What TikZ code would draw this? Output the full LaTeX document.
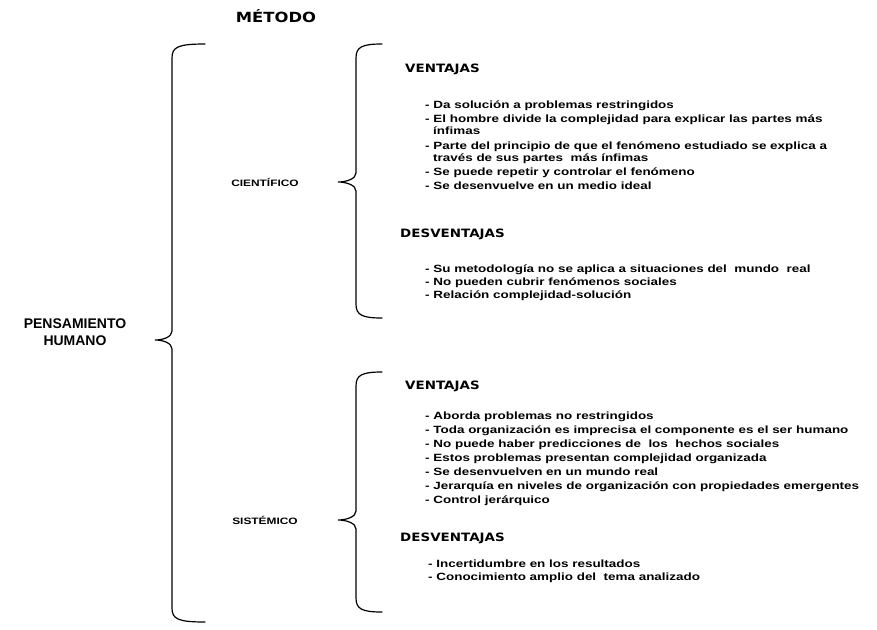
\documentclass[tikz,border=0pt]{standalone}
\usepackage{fontspec}
\setmainfont{Liberation Sans}
\newfontfamily\headfont[FakeStretch=1.17]{DejaVu Sans}
\newfontfamily\itemfont[FakeStretch=1.28]{Liberation Sans}
\newfontfamily\plainfont{Liberation Sans}
\newcommand{\drawbrace}[6]{%
  \draw[brace] (#5,#2) .. controls ({#1+6},#2) and (#1,{#2+3}) .. (#1,{#2+14})
    -- (#1,{#3-9}) .. controls (#1,{#3-3}) and ({#6+8},#3) .. (#6,#3)
    .. controls ({#6+8},#3) and (#1,{#3+3}) .. (#1,{#3+9})
    -- (#1,{#4-14}) .. controls (#1,{#4-3}) and ({#1+6},#4) .. (#5,#4);}
\tikzset{
  itemtext/.style={anchor=base west, inner sep=0pt, font=\itemfont\bfseries\fontsize{10.5}{13}\selectfont},
  headtext/.style={anchor=base west, inner sep=0pt, font=\headfont\bfseries\fontsize{11.5}{13}\selectfont},
  branchtext/.style={anchor=center, inner sep=0pt, font=\itemfont\bfseries\fontsize{9.3}{11}\selectfont},
  titletext/.style={anchor=center, inner sep=0pt, font=\headfont\bfseries\fontsize{14}{16}\selectfont},
  roottext/.style={anchor=center, inner sep=0pt, align=center, font=\plainfont\bfseries\fontsize{14}{17}\selectfont},
  brace/.style={line width=1.2pt, line cap=round},
}
\begin{document}
\begin{tikzpicture}[x=1pt,y=-1pt]
\useasboundingbox[fill=white] (0,0) rectangle (877,629);

\node[titletext] (metodo) at (276,16) {MÉTODO};
\node[roottext] (root) at (75,332) {PENSAMIENTO\\HUMANO};
\node[branchtext] (cient) at (265,182) {CIENTÍFICO};
\node[branchtext] (sist) at (265,520) {SISTÉMICO};

% braces
\drawbrace{172}{44}{340}{622}{205}{155}
\drawbrace{356}{44}{182}{318}{382}{338}
\drawbrace{356}{372}{520}{612}{382}{338}

% Cientifico
\node[headtext] (v1) at (405,72) {VENTAJAS};
\node[itemtext] (v1a) at (425,108) {- Da solución a problemas restringidos};
\node[itemtext] (v1b) at (425,122) {- El hombre divide la complejidad para explicar las partes más};
\node[itemtext] (v1b2) at (433,134) {ínfimas};
\node[itemtext] (v1c) at (425,149) {- Parte del principio de que el fenómeno estudiado se explica a};
\node[itemtext] (v1c2) at (433,161) {través de sus partes~ más ínfimas};
\node[itemtext] (v1d) at (425,175) {- Se puede repetir y controlar el fenómeno};
\node[itemtext] (v1e) at (425,189) {- Se desenvuelve en un medio ideal};
\node[headtext] (d1) at (400,237) {DESVENTAJAS};
\node[itemtext] (d1a) at (425,272) {- Su metodología no se aplica a situaciones del~ mundo~ real};
\node[itemtext] (d1b) at (425,285) {- No pueden cubrir fenómenos sociales};
\node[itemtext] (d1c) at (425,298) {- Relación complejidad-solución};

% Sistemico
\node[headtext] (v2) at (405,389) {VENTAJAS};
\node[itemtext] (v2a) at (425,419) {- Aborda problemas no restringidos};
\node[itemtext] (v2b) at (425,433) {- Toda organización es imprecisa el componente es el ser humano};
\node[itemtext] (v2c) at (425,447) {- No puede haber predicciones de~ los~ hechos sociales};
\node[itemtext] (v2d) at (425,461) {- Estos problemas presentan complejidad organizada};
\node[itemtext] (v2e) at (425,475) {- Se desenvuelven en un mundo real};
\node[itemtext] (v2f) at (425,489) {- Jerarquía en niveles de organización con propiedades emergentes};
\node[itemtext] (v2g) at (425,503) {- Control jerárquico};
\node[headtext] (d2) at (400,541) {DESVENTAJAS};
\node[itemtext] (d2a) at (428,567) {- Incertidumbre en los resultados};
\node[itemtext] (d2b) at (428,580) {- Conocimiento amplio del~ tema analizado};
\end{tikzpicture}
\end{document}
